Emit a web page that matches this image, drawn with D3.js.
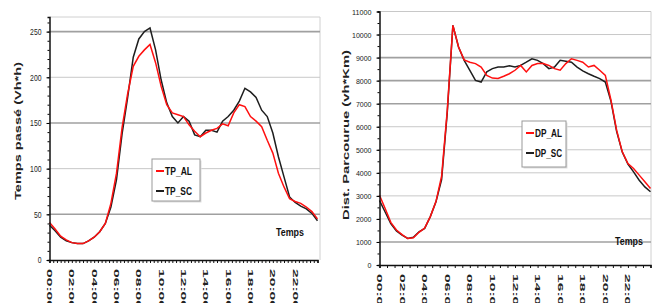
<!DOCTYPE html>
<html>
<head>
<meta charset="utf-8">
<script src="https://cdn.jsdelivr.net/npm/d3@7"></script>
<style>
body{margin:0;background:#fff;}
text{font-family:"Liberation Sans",Arial,sans-serif;}
</style>
</head>
<body>
<script>
// hours of the day (every 30 min)
var hours = [0,0.5,1,1.5,2,2.5,3,3.5,4,4.5,5,5.5,6,6.5,7,7.5,8,8.5,9,9.5,10,10.5,11,11.5,
	12,12.5,13,13.5,14,14.5,15,15.5,16,16.5,17,17.5,18,18.5,19,19.5,20,20.5,21,21.5,22,22.5,23,23.5,24];

var tpAL = [41,34,26,22,19,18,18,21,25,31,40,62,95,145,182,212,223,230,236,216,190,170,161,159,
	157,148,141,135,139,142,144,149,147,161,170,168,157,152,146,131,117,95,80,67,64,62,58,53,45];
var tpSC = [38,32,25,21,19,18,18,21,25,31,40,58,88,138,178,222,242,250,254,230,197,172,157,150,
	157,152,137,135,142,142,140,152,157,164,174,188,184,178,164,157,139,113,91,69,63,59,56,51,43];

var dpAL = [3030,2450,1850,1520,1320,1150,1180,1420,1600,2100,2750,3850,6700,10400,9460,8900,8800,8740,8590,8230,8110,8090,8190,8300,
	8450,8660,8380,8660,8740,8740,8660,8520,8450,8740,8950,8880,8800,8590,8660,8450,8230,7150,5850,4910,4400,4190,3900,3610,3320];
var dpSC = [2800,2300,1800,1480,1300,1150,1200,1440,1590,2100,2740,3700,6600,10400,9460,8880,8450,8010,7940,8380,8520,8590,8590,8640,
	8590,8660,8800,8950,8880,8740,8520,8590,8880,8840,8800,8590,8420,8300,8190,8090,7940,7100,5800,4900,4380,4040,3680,3390,3180];

var xLabels = ["00:00","02:00","04:00","06:00","08:00","10:00","12:00","14:00","16:00","18:00","20:00","22:00"];
var xLabelHours = [0,2,4,6,8,10,12,14,16,18,20,22];

var svg = d3.select("body").append("svg")
	.attr("width",652)
	.attr("height",303);

function drawChart(o){
	var g = svg.append("g");
	var x = d3.scaleLinear().domain([0,24]).range([o.x0,o.x1]);
	var y = d3.scaleLinear().domain([0,o.yMax]).range([o.y0,o.y1]);

	// frame top + right
	g.append("path")
		.attr("d","M"+o.x0+","+o.y1+"H"+o.frameR+"V"+o.y0)
		.attr("fill","none")
		.attr("stroke","#d0d0d0");

	// gridlines
	g.selectAll("line.grid")
		.data(o.grid)
		.enter().append("line")
		.attr("x1",o.x0).attr("x2",o.frameR)
		.attr("y1",function(d){return y(d);})
		.attr("y2",function(d){return y(d);})
		.attr("stroke",function(d){return o.dark.indexOf(d)>=0 ? "#a0a0a0" : "#c8c8c8";})
		.attr("stroke-width",function(d){return o.dark.indexOf(d)>=0 ? 1.6 : 1;});

	// series
	var line = d3.line()
		.x(function(d,i){return x(hours[i]);})
		.y(function(d){return y(d);});
	g.append("path").datum(o.black).attr("d",line)
		.attr("fill","none").attr("stroke","#1e1e1e").attr("stroke-width",1.5);
	g.append("path").datum(o.red).attr("d",line)
		.attr("fill","none").attr("stroke","#ff1010").attr("stroke-width",1.5);

	// y axis
	var yAx = g.append("g").attr("transform","translate("+o.x0+",0)")
		.call(d3.axisLeft(y).tickValues(d3.range(0,o.yMax+1,o.minor)).tickSize(2).tickFormat(""));
	yAx.select(".domain").attr("stroke","#111").attr("stroke-width",1.5);
	var yAx2 = g.append("g").attr("transform","translate("+o.x0+",0)")
		.call(d3.axisLeft(y).tickValues(o.yTicks).tickSize(3).tickPadding(5).tickFormat(d3.format("d")));
	yAx2.select(".domain").remove();
	yAx2.selectAll("text")
		.style("font-size",o.yFont+"px")
		.attr("fill","#222")
		.attr("textLength",function(d){return String(d).length*o.charW;})
		.attr("lengthAdjust","spacingAndGlyphs");

	// x axis
	var xAx = g.append("g").attr("transform","translate(0,"+o.y0+")")
		.call(d3.axisBottom(x).tickValues(d3.range(0,24.01,o.xMinor)).tickSize(3).tickFormat(""));
	xAx.select(".domain").attr("stroke","#111").attr("stroke-width",1.5);
	xAx.selectAll("line").attr("stroke","#111");

	g.selectAll("text.xl")
		.data(xLabels)
		.enter().append("text")
		.attr("class","xl")
		.attr("transform",function(d,i){return "translate("+(x(xLabelHours[i])-2.5)+","+o.labTop+") scale(0.75,1) rotate(90)";})
		.attr("textLength",40)
		.attr("lengthAdjust","spacingAndGlyphs")
		.style("font-size","10px")
		.style("font-weight","bold")
		.attr("fill","#222")
		.text(function(d){return d;});

	// y title
	g.append("text")
		.attr("transform","translate("+o.titleX+","+o.titleY+") scale(0.72,1) rotate(-90)")
		.attr("text-anchor","middle")
		.attr("textLength",o.titleLen)
		.attr("lengthAdjust","spacingAndGlyphs")
		.style("font-size","12px")
		.style("font-weight","bold")
		.attr("fill","#222")
		.text(o.title);

	// "Temps"
	g.append("text")
		.attr("x",o.tempsX).attr("y",o.tempsY)
		.attr("textLength",28)
		.attr("lengthAdjust","spacingAndGlyphs")
		.style("font-size","11px")
		.style("font-weight","bold")
		.attr("fill","#111")
		.text("Temps");

	// legend
	var lg = g.append("g").attr("transform","translate("+o.legX+","+o.legY+")");
	lg.append("rect").attr("x",1.5).attr("y",1.5).attr("width",o.legW).attr("height",o.legH).attr("fill","#ddd");
	lg.append("rect").attr("width",o.legW).attr("height",o.legH)
		.attr("fill","#fff").attr("stroke","#999");
	var items = [{n:o.names[0],c:"#ff1010"},{n:o.names[1],c:"#1e1e1e"}];
	var it = lg.selectAll("g.it").data(items).enter().append("g")
		.attr("transform",function(d,i){return "translate(0,"+(o.legRow0+i*o.legStep)+")";});
	it.append("line").attr("x1",4).attr("x2",12).attr("stroke",function(d){return d.c;}).attr("stroke-width",2);
	it.append("text").attr("x",13).attr("y",4)
		.attr("textLength",27)
		.attr("lengthAdjust","spacingAndGlyphs")
		.style("font-size","11px")
		.style("font-weight","bold")
		.attr("fill","#111")
		.text(function(d){return d.n;});
}

drawChart({
	x0:49.5, x1:317.5, frameR:320, y0:260, y1:17, yMax:266,
	grid:[50,100,150,200,250], dark:[50,150,250],
	yTicks:[0,50,100,150,200,250], minor:10, yFont:9, charW:3.8, xMinor:1/3,
	red:tpAL, black:tpSC, labTop:269,
	title:"Temps passé (Vh*h)", titleX:21, titleY:131, titleLen:138,
	tempsX:276, tempsY:236,
	legX:152, legY:159, legW:48, legH:42, legRow0:12, legStep:20,
	names:["TP_AL","TP_SC"]
});

drawChart({
	x0:379.5, x1:650.5, frameR:651, y0:265, y1:11.5, yMax:11000,
	grid:[1000,2000,3000,4000,5000,6000,7000,8000,9000,10000,11000], dark:[1000,7000,8000,9000],
	yTicks:[0,1000,2000,3000,4000,5000,6000,7000,8000,9000,10000,11000], minor:500, yFont:8, charW:3.9, xMinor:2/3,
	red:dpAL, black:dpSC, labTop:274,
	title:"Dist. Parcourue (vh*Km)", titleX:349, titleY:135, titleLen:170,
	tempsX:615, tempsY:245,
	legX:522, legY:121, legW:44, legH:46, legRow0:12, legStep:20,
	names:["DP_AL","DP_SC"]
});
</script>
</body>
</html>
